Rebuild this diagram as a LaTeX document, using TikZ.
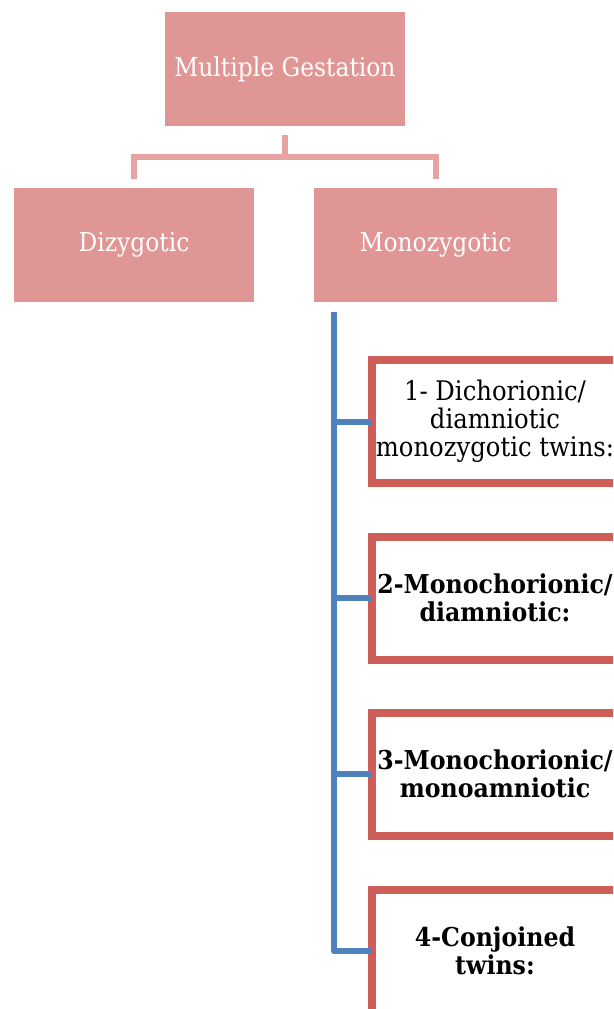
\documentclass[tikz,border=0pt]{standalone}
\usepackage{fontspec}
\newfontfamily\dfont[FakeStretch=0.9]{DejaVu Serif}
\newfontfamily\bfont[FakeStretch=0.91]{DejaVu Serif Bold}
\definecolor{pinkfill}{HTML}{E09694}
\definecolor{pinkline}{HTML}{E6A3A1}
\definecolor{redline}{HTML}{CD5F58}
\definecolor{blueline}{HTML}{4F81BD}
\tikzset{
  topbox/.style={fill=pinkfill, draw=none, minimum width=240pt, minimum height=114pt, inner sep=0pt, outer sep=0pt,
    font=\dfont\fontsize{26}{28}\selectfont, text=white},
  subbox/.style={draw=redline, fill=white, line width=8pt, minimum width=246pt, minimum height=123pt, inner sep=0pt, outer sep=0pt,
    align=center, text=black, font=\dfont\fontsize{27}{28}\selectfont},
  boldsub/.style={subbox, font=\bfont\fontsize{26}{28}\selectfont},
  pconn/.style={draw=pinkline, line width=6pt, shorten <=9pt, shorten >=9pt},
  bconn/.style={draw=blueline, line width=6pt, line join=round, line cap=butt}
}
\begin{document}
\begin{tikzpicture}[x=1pt,y=-1pt]
\useasboundingbox (0,0) rectangle (613,1009);
\clip (0,0) rectangle (613,1009);
\node[topbox] (top) at (285,69) {Multiple Gestation};
\node[topbox] (dizy) at (134,245) {Dizygotic};
\node[topbox, minimum width=243pt] (mono) at (435.5,245) {Monozygotic};
\draw[pconn] (top.south) -- ++(0,31) -| (dizy.north);
\draw[pconn] (top.south) -- ++(0,31) -| (mono.north);
\coordinate (bt) at (334,312);
\node[subbox] (b1) at (495,421.5) {1- Dichorionic/\\diamniotic\\monozygotic twins:};
\node[boldsub] (b2) at (495,598) {2-Monochorionic/\\diamniotic:};
\node[boldsub] (b3) at (495,774) {3-Monochorionic/\\monoamniotic};
\node[boldsub] (b4) at (495,951) {4-Conjoined\\twins:};
\draw[bconn] (bt) |- (b4.west);
\draw[bconn] (bt |- b1.west) -- (b1.west);
\draw[bconn] (bt |- b2.west) -- (b2.west);
\draw[bconn] (bt |- b3.west) -- (b3.west);
\end{tikzpicture}
\end{document}
